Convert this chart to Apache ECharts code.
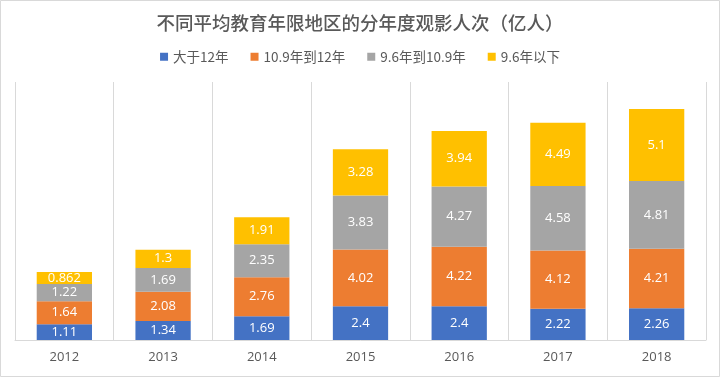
<!DOCTYPE html>
<html>
<head>
<meta charset="utf-8">
<script src="https://cdn.jsdelivr.net/npm/echarts@6/dist/echarts.min.js"></script>
<style>
  html, body { margin: 0; padding: 0; background: #fff; }
  #chart { width: 720px; height: 377px; }
</style>
</head>
<body>
<div id="chart"></div>
<script>
var years = ["2012", "2013", "2014", "2015", "2016", "2017", "2018"];
var over12 = [1.11, 1.34, 1.69, 2.4, 2.4, 2.22, 2.26];
var from109to12 = [1.64, 2.08, 2.76, 4.02, 4.22, 4.12, 4.21];
var from96to109 = [1.22, 1.69, 2.35, 3.83, 4.27, 4.58, 4.81];
var under96 = [0.862, 1.3, 1.91, 3.28, 3.94, 4.49, 5.1];

var names = ["大于12年", "10.9年到12年", "9.6年到10.9年", "9.6年以下"];
var colors = ["#4472C4", "#ED7D31", "#A5A5A5", "#FFC000"];
var lists = [over12, from109to12, from96to109, under96];

var chart = echarts.init(document.getElementById("chart"));

var series = lists.map(function (d, i) {
  return {
    name: names[i],
    type: "bar",
    stack: "total",
    barWidth: "56%",
    data: d,
    itemStyle: { color: colors[i] },
    label: {
      show: true,
      position: "inside",
      color: "#fff",
      fontSize: 13,
      fontFamily: "Open Sans, sans-serif"
    }
  };
});

var option = {
  backgroundColor: "#fff",
  color: colors,
  animation: false,
  title: {
    text: "不同平均教育年限地区的分年度观影人次（亿人）",
    left: "center",
    top: 9,
    textStyle: {
      color: "#595959",
      fontSize: 18.5,
      fontWeight: 500,
      fontFamily: "Noto Sans CJK SC"
    }
  },
  legend: {
    top: 45,
    left: "center",
    itemWidth: 8,
    itemHeight: 8,
    itemGap: 22,
    icon: "rect",
    textStyle: {
      color: "#595959",
      fontSize: 13.5,
      fontFamily: "Noto Sans CJK SC"
    }
  },
  grid: {
    left: 15,
    right: 14,
    top: 82,
    bottom: 37
  },
  xAxis: {
    type: "category",
    data: years,
    axisTick: { show: false },
    axisLine: { lineStyle: { color: "#d9d9d9" } },
    splitLine: { show: true, interval: 0, lineStyle: { color: "#d9d9d9" } },
    axisLabel: {
      color: "#595959",
      fontSize: 13,
      margin: 11,
      fontFamily: "Open Sans, sans-serif"
    }
  },
  yAxis: {
    type: "value",
    min: 0,
    max: 18.3,
    show: false
  },
  graphic: [
    {
      type: "rect",
      shape: { x: 0.5, y: 0.5, width: 719, height: 376 },
      style: { fill: "none", stroke: "#d9d9d9", lineWidth: 1 }
    }
  ],
  series: series
};

chart.setOption(option);
</script>
</body>
</html>
